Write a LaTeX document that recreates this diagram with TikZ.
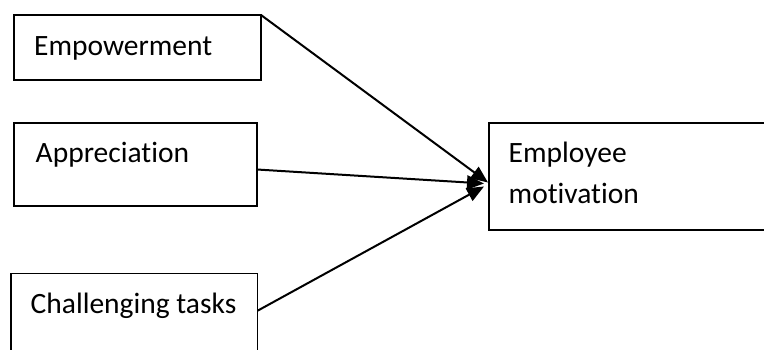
\documentclass[tikz,border=0pt]{standalone}
\usepackage{fontspec}
\setmainfont{Carlito}[Ligatures={NoCommon}]
\usetikzlibrary{arrows.meta,calc,fit}
\begin{document}
\begin{tikzpicture}[x=1pt,y=-1pt,
  box/.style={draw, line width=1.5pt, inner sep=0pt, outer sep=0pt},
  lbl/.style={inner sep=0pt, anchor=base west, font=\fontsize{29.5}{35}\selectfont},
  arr/.style={line width=2pt, -{Triangle[length=17pt,width=14pt]}}]
\clip (0,0) rectangle (764,349);
\fill[white] (0,0) rectangle (764,349);
% boxes
\node[box, fit={(14,15) (261,80)}] (emp) {};
\node[box, fit={(14,123) (257,206)}] (app) {};
\node[box, fit={(11,273.5) (257.5,360)}] (cha) {};
\node[box, fit={(489,123) (780,230)}] (emo) {};
% labels
\node[lbl] (empt) at (34,55) {Empowerment};
\node[lbl] (appt) at (35.5,162.7) {Appreciation};
\node[lbl] (chat) at (30.5,313.3) {Challenging tasks};
\node[lbl] (emot1) at (508.5,162.7) {Employee};
\node[lbl] (emot2) at (508.5,203.3) {motivation};
% arrows
\draw[arr] (emp.north east) -- ($(emo.west)+(-1,6)$);
\draw[arr] ($(app.east)+(0,5)$) -- ($(emo.west)+(-5,7)$);
\draw[arr] ($(cha.east)+(0,-6)$) -- ($(emo.west)+(-5,10)$);
\end{tikzpicture}
\end{document}
